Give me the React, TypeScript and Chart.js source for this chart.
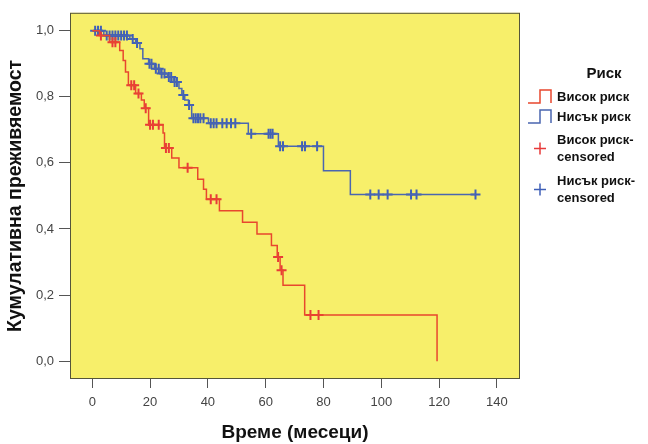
import React, { useEffect, useRef } from "react";
import { Chart, registerables } from "chart.js";

Chart.register(...registerables);

// ---- Data ----
const highTimes = [0, 2.5, 6, 9.5, 10.7, 11.5, 12.5, 15, 17, 18, 19.5, 24.5, 25, 27.5, 30, 36.5, 38.5, 39.5, 44, 52, 57, 62, 64, 65, 66, 73.5, 119.3];
const highSurv = [1.0, 0.985, 0.965, 0.94, 0.91, 0.875, 0.835, 0.81, 0.79, 0.765, 0.715, 0.69, 0.645, 0.615, 0.585, 0.55, 0.52, 0.49, 0.455, 0.42, 0.385, 0.35, 0.315, 0.275, 0.23, 0.14, 0.0];

const highCensTimes = [3, 7, 8, 13.5, 14.5, 16, 18.5, 20, 21, 23, 25.5, 26.5, 33, 41, 43, 64.3, 65.5, 75.5, 78.3];
const highCensSurv = [0.985, 0.965, 0.965, 0.835, 0.835, 0.81, 0.765, 0.715, 0.715, 0.715, 0.645, 0.645, 0.585, 0.49, 0.49, 0.315, 0.275, 0.14, 0.14];

const lowTimes = [0, 4, 13, 15, 16.5, 17.5, 19.5, 21.5, 23.5, 26, 28, 30, 31, 32, 33.3, 34.4, 40.2, 54, 64.4, 80, 89.3, 132.6];
const lowSurv = [1.0, 0.985, 0.975, 0.963, 0.945, 0.915, 0.9, 0.885, 0.87, 0.86, 0.845, 0.825, 0.805, 0.79, 0.775, 0.735, 0.72, 0.688, 0.65, 0.576, 0.504, 0.504];

const lowCensTimes = [1, 2, 3, 5, 6, 7, 8, 9, 10, 11, 12, 14, 15.5, 19.8, 20.5, 22, 23, 24, 25, 26.5, 27.3, 28.5, 29.3, 31.5, 33.5, 35, 35.8, 36.6, 37.4, 38.5, 41, 42, 43, 45, 46.5, 48, 49.5, 55, 61, 61.7, 62.4, 65, 66, 72.6, 73.6, 77.8, 96.2, 99.1, 102.2, 110.3, 112.2, 132.6];
const lowCensSurv = [1.0, 1.0, 1.0, 0.985, 0.985, 0.985, 0.985, 0.985, 0.985, 0.985, 0.985, 0.975, 0.963, 0.9, 0.9, 0.885, 0.885, 0.87, 0.87, 0.86, 0.86, 0.845, 0.845, 0.805, 0.775, 0.735, 0.735, 0.735, 0.735, 0.735, 0.72, 0.72, 0.72, 0.72, 0.72, 0.72, 0.72, 0.688, 0.688, 0.688, 0.688, 0.65, 0.65, 0.65, 0.65, 0.65, 0.504, 0.504, 0.504, 0.504, 0.504, 0.504];

const xTickValues = [0, 20, 40, 60, 80, 100, 120, 140];
const xTickLabels = ["0", "20", "40", "60", "80", "100", "120", "140"];
const yTickValues = [0, 0.2, 0.4, 0.6, 0.8, 1.0];
const yTickLabels = ["0,0", "0,2", "0,4", "0,6", "0,8", "1,0"];

const legendTitle = "Риск";
const legendLabels = [["Висок риск"], ["Нисък риск"], ["Висок риск-", "censored"], ["Нисък риск-", "censored"]];

const RED = "#e8472e";
const BLUE = "#4a66b0";
const RED_CROSS = "#e83a3a";
const BLUE_CROSS = "#3f5fb8";
const PLOT_BG = "#f7ef6a";
const FONT = "'Liberation Sans', Arial, sans-serif";

const toPts = (xs: number[], ys: number[]) => xs.map((x, i) => ({ x, y: ys[i] }));

const bgPlugin = {
  id: "bgPlugin",
  beforeDraw(chart: any) {
    const { ctx, chartArea: a } = chart;
    ctx.save();
    ctx.fillStyle = "#ffffff";
    ctx.fillRect(0, 0, chart.width, chart.height);
    ctx.fillStyle = PLOT_BG;
    ctx.fillRect(a.left, a.top, a.right - a.left, a.bottom - a.top);
    ctx.restore();
  },
  afterDraw(chart: any) {
    const { ctx, chartArea: a } = chart;
    ctx.save();
    ctx.strokeStyle = "#55553a";
    ctx.lineWidth = 1;
    ctx.strokeRect(a.left + 0.5, a.top + 0.5, a.right - a.left - 1, a.bottom - a.top - 1);

    // legend
    const lx = 528;
    ctx.fillStyle = "#111";
    ctx.textBaseline = "middle";
    ctx.font = `bold 15px ${FONT}`;
    ctx.textAlign = "center";
    ctx.fillText(legendTitle, 604, 74);
    ctx.textAlign = "left";
    ctx.font = `bold 13px ${FONT}`;
    const rows = [97, 117, 140, 181];
    const colors = [RED, BLUE, RED_CROSS, BLUE_CROSS];
    rows.forEach((ry, i) => {
      ctx.strokeStyle = colors[i];
      ctx.lineWidth = 1.5;
      if (i < 2) {
        ctx.beginPath();
        ctx.moveTo(lx, ry + 6);
        ctx.lineTo(lx + 12, ry + 6);
        ctx.lineTo(lx + 12, ry - 7);
        ctx.lineTo(lx + 23, ry - 7);
        ctx.lineTo(lx + 23, ry + 6);
        ctx.stroke();
      } else {
        const cy = ry + 8.5;
        ctx.beginPath();
        ctx.moveTo(lx + 6, cy);
        ctx.lineTo(lx + 18, cy);
        ctx.moveTo(lx + 12, cy - 6);
        ctx.lineTo(lx + 12, cy + 6);
        ctx.stroke();
      }
      ctx.fillStyle = "#111";
      legendLabels[i].forEach((t, k) => ctx.fillText(t, 557, ry + k * 17));
    });
    ctx.restore();
  },
};

export default function App() {
  const ref = useRef<HTMLCanvasElement | null>(null);
  useEffect(() => {
    if (!ref.current) return;
    const chart = new Chart(ref.current, {
      type: "line",
      data: {
        datasets: [
          {
            label: "Висок риск",
            data: toPts(highTimes, highSurv),
            borderColor: RED,
            borderWidth: 1.5,
            stepped: true,
            pointRadius: 0,
            fill: false,
          } as any,
          {
            label: "Нисък риск",
            data: toPts(lowTimes, lowSurv),
            borderColor: BLUE,
            borderWidth: 1.5,
            stepped: true,
            pointRadius: 0,
            fill: false,
          },
          {
            label: "Висок риск-censored",
            type: "scatter",
            data: toPts(highCensTimes, highCensSurv),
            borderColor: RED_CROSS,
            backgroundColor: RED_CROSS,
            pointStyle: "cross",
            pointRadius: 5,
            borderWidth: 2,
            showLine: false,
          },
          {
            label: "Нисък риск-censored",
            type: "scatter",
            data: toPts(lowCensTimes, lowCensSurv),
            borderColor: BLUE_CROSS,
            backgroundColor: BLUE_CROSS,
            pointStyle: "cross",
            pointRadius: 5,
            borderWidth: 2,
            showLine: false,
          },
        ],
      },
      options: {
        animation: false,
        responsive: false,
        layout: { padding: { left: 0, top: 10, right: 128, bottom: 0 } },
        plugins: { legend: { display: false }, tooltip: { enabled: false } },
        scales: {
          x: {
            type: "linear",
            min: -7.7,
            max: 148,
            afterBuildTicks: (s: any) => {
              s.ticks = xTickValues.map((v) => ({ value: v }));
            },
            afterFit: (s: any) => {
              s.height = 65;
            },
            grid: { display: true, drawOnChartArea: false, drawTicks: true, tickLength: 9, color: "#555", lineWidth: 1 },
            border: { display: false },
            ticks: {
              padding: 7,
              color: "#444",
              font: { family: FONT, size: 13 },
              callback: (_v: any, i: number) => xTickLabels[i],
            },
            title: {
              display: true,
              text: "Време (месеци)",
              color: "#111",
              font: { family: FONT, size: 19, weight: "bold" },
              padding: { top: 0, bottom: 0 },
            },
          },
          y: {
            type: "linear",
            min: -0.054,
            max: 1.054,
            afterBuildTicks: (s: any) => {
              s.ticks = yTickValues.map((v) => ({ value: v }));
            },
            afterFit: (s: any) => {
              s.width = 70;
            },
            grid: { display: true, drawOnChartArea: false, drawTicks: true, tickLength: 11, color: "#555", lineWidth: 1 },
            border: { display: false },
            ticks: {
              padding: 5,
              color: "#444",
              font: { family: FONT, size: 13 },
              callback: (_v: any, i: number) => yTickLabels[i],
            },
            title: {
              display: true,
              text: "Кумулативна преживяемост",
              color: "#111",
              font: { family: FONT, size: 19.5, weight: "bold" },
              padding: { top: 4, bottom: 0 },
            },
          },
        },
      } as any,
      plugins: [bgPlugin],
    });
    return () => chart.destroy();
  }, []);
  return (
    <div style={{ position: "fixed", left: 0, top: 0, width: 648, height: 444, background: "#fff" }}>
      <canvas ref={ref} width={648} height={444} style={{ display: "block" }} />
    </div>
  );
}
